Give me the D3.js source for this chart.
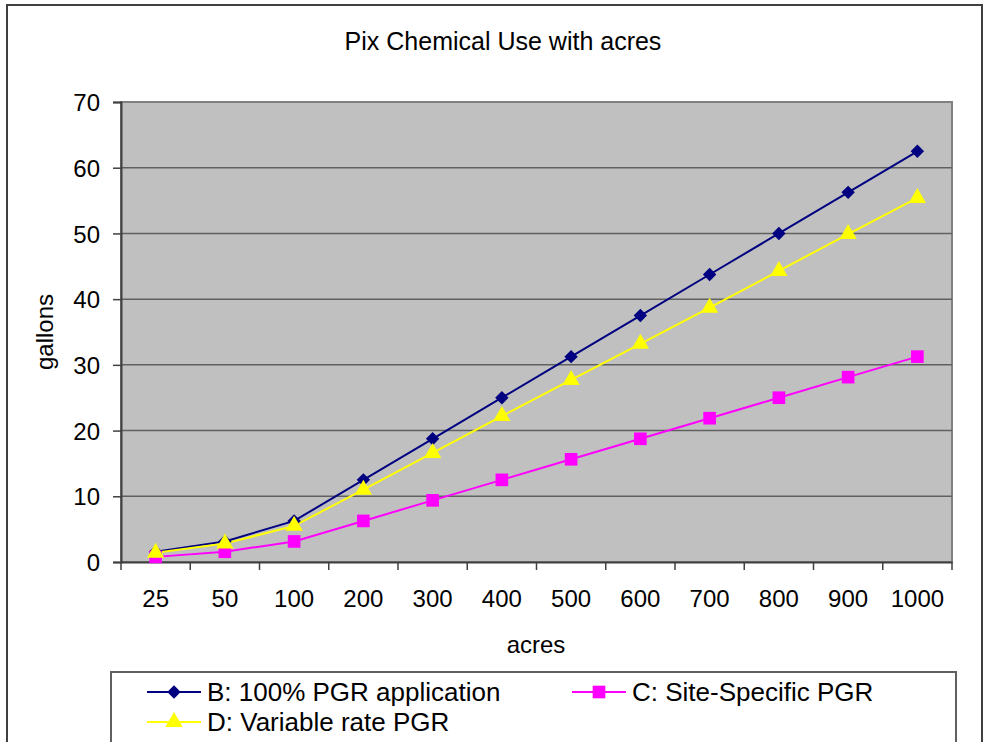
<!DOCTYPE html>
<html>
<head>
<meta charset="utf-8">
<script src="https://cdn.jsdelivr.net/npm/d3@7"></script>
<style>
  body { margin: 0; background: #fff; }
  svg { display: block; font-family: "Liberation Sans", Arial, sans-serif; }
</style>
</head>
<body>
<svg width="987" height="742"></svg>
<script>
const acres = ["25", "50", "100", "200", "300", "400", "500", "600", "700", "800", "900", "1000"];
const fullPGR = [1.56, 3.13, 6.25, 12.5, 18.75, 25, 31.25, 37.5, 43.75, 50, 56.25, 62.5];
const siteSpecific = [0.78, 1.56, 3.13, 6.25, 9.38, 12.5, 15.63, 18.75, 21.88, 25, 28.13, 31.25];
const variableRate = [1.4, 2.8, 5.5, 11.0, 16.6, 22.2, 27.7, 33.2, 38.7, 44.3, 49.9, 55.4];
const yTicks = [0, 10, 20, 30, 40, 50, 60, 70];

const series = [
  { name: "B: 100% PGR application", values: fullPGR, color: "#000080", shape: "diamond" },
  { name: "C: Site-Specific PGR", values: siteSpecific, color: "#ff00ff", shape: "square" },
  { name: "D: Variable rate PGR", values: variableRate, color: "#ffff00", shape: "triangle" }
];

const plot = { left: 121, top: 102, right: 952, bottom: 562 };

const svg = d3.select("svg");

// outer chart border
svg.append("rect")
   .attr("x", 7).attr("y", 5)
   .attr("width", 975).attr("height", 760)
   .attr("fill", "#fff")
   .attr("stroke", "#404040")
   .attr("stroke-width", 2);

svg.append("text")
   .attr("x", 503).attr("y", 50)
   .attr("text-anchor", "middle")
   .attr("font-size", 25)
   .text("Pix Chemical Use with acres");

const xScale = d3.scaleBand()
                 .domain(acres)
                 .range([plot.left, plot.right]);

const yScale = d3.scaleLinear()
                 .domain([0, 70])
                 .range([plot.bottom, plot.top]);

// plot background
svg.append("rect")
   .attr("x", plot.left).attr("y", plot.top)
   .attr("width", plot.right - plot.left)
   .attr("height", plot.bottom - plot.top)
   .attr("fill", "#c0c0c0")
   .attr("stroke", "#808080")
   .attr("stroke-width", 2);

// gridlines
svg.append("g")
   .selectAll("line")
   .data(yTicks.filter(d => d > 0 && d < 70))
   .join("line")
   .attr("x1", plot.left).attr("x2", plot.right)
   .attr("y1", d => yScale(d)).attr("y2", d => yScale(d))
   .attr("stroke", "#606060")
   .attr("stroke-width", 1.5);

// y axis
const yAxis = svg.append("g")
   .attr("transform", `translate(${plot.left}, 0)`)
   .call(d3.axisLeft(yScale).tickValues(yTicks).tickSize(8).tickPadding(13));
yAxis.select(".domain").attr("stroke", "#404040").attr("stroke-width", 2);
yAxis.selectAll(".tick line").attr("stroke", "#404040").attr("stroke-width", 1.5);
yAxis.selectAll("text")
     .attr("font-family", "Liberation Sans, Arial, sans-serif")
     .attr("font-size", 24)
     .attr("fill", "#000")
     .attr("dy", "0.36em");

// x axis, ticks sit on the band edges
const xAxis = svg.append("g")
   .attr("transform", `translate(0, ${plot.bottom})`)
   .call(d3.axisBottom(xScale).tickSize(0).tickPadding(45));
xAxis.select(".domain").attr("stroke", "#404040").attr("stroke-width", 2);
xAxis.selectAll("text")
     .attr("font-family", "Liberation Sans, Arial, sans-serif")
     .attr("font-size", 24)
     .attr("fill", "#000")
     .attr("dy", 0);
const edges = acres.map(d => xScale(d)).concat([plot.right]);
xAxis.selectAll(".edge")
     .data(edges)
     .join("line")
     .attr("class", "edge")
     .attr("x1", d => d).attr("x2", d => d)
     .attr("y1", 0).attr("y2", 8)
     .attr("stroke", "#404040")
     .attr("stroke-width", 1.5);

svg.append("text")
   .attr("x", 536).attr("y", 653)
   .attr("text-anchor", "middle")
   .attr("font-size", 24)
   .text("acres");

svg.append("text")
   .attr("transform", `translate(53, ${(plot.top + plot.bottom) / 2}) rotate(-90)`)
   .attr("text-anchor", "middle")
   .attr("font-size", 24)
   .text("gallons");

// diamonds are squares turned 45 degrees
const symbolFor = {
  diamond: { path: d3.symbol().type(d3.symbolSquare).size(90)(), rotate: 45 },
  square: { path: d3.symbol().type(d3.symbolSquare).size(160)(), rotate: 0 },
  triangle: { path: d3.symbol().type(d3.symbolTriangle).size(130)(), rotate: 0 }
};

const line = d3.line()
               .x((d, i) => xScale(acres[i]) + xScale.bandwidth() / 2)
               .y(d => yScale(d));

series.forEach(s => {
  svg.append("path")
     .datum(s.values)
     .attr("d", line)
     .attr("fill", "none")
     .attr("stroke", s.color)
     .attr("stroke-width", 2);
});

series.forEach(s => {
  const sym = symbolFor[s.shape];
  svg.append("g")
     .selectAll("path")
     .data(s.values)
     .join("path")
     .attr("transform", (d, i) => `translate(${xScale(acres[i]) + xScale.bandwidth() / 2}, ${yScale(d)}) rotate(${sym.rotate})`)
     .attr("d", sym.path)
     .attr("fill", s.color);
});

// legend
const legend = svg.append("g");
legend.append("rect")
      .attr("x", 111).attr("y", 672)
      .attr("width", 845).attr("height", 90)
      .attr("fill", "#fff")
      .attr("stroke", "#606060")
      .attr("stroke-width", 2);

const legendPos = [
  { x: 147, y: 692 },
  { x: 572, y: 692 },
  { x: 147, y: 722 }
];

series.forEach((s, i) => {
  const p = legendPos[i];
  const sym = symbolFor[s.shape];
  const item = legend.append("g").attr("transform", `translate(${p.x}, ${p.y})`);
  item.append("line")
      .attr("x1", 0).attr("x2", 54)
      .attr("stroke", s.color)
      .attr("stroke-width", 2);
  item.append("path")
      .attr("transform", `translate(27, 0) rotate(${sym.rotate})`)
      .attr("d", sym.path)
      .attr("fill", s.color);
  item.append("text")
      .attr("x", 60).attr("y", 9)
      .attr("font-size", 26)
      .text(s.name);
});
</script>
</body>
</html>
